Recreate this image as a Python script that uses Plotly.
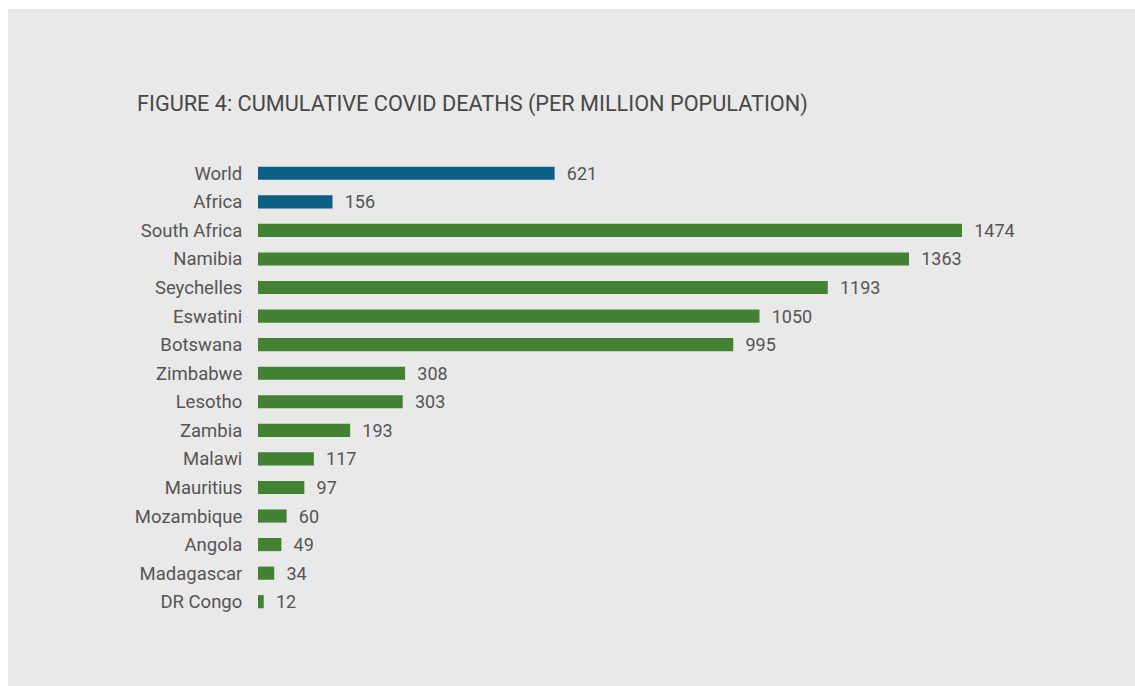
import plotly.graph_objects as go

countries = ["World", "Africa", "South Africa", "Namibia", "Seychelles", "Eswatini",
             "Botswana", "Zimbabwe", "Lesotho", "Zambia", "Malawi", "Mauritius",
             "Mozambique", "Angola", "Madagascar", "DR Congo"]
deaths_per_million = [621, 156, 1474, 1363, 1193, 1050, 995, 308, 303, 193, 117, 97,
                      60, 49, 34, 12]
aggregates = ["World", "Africa"]

BLUE = "#0b5e84"
GREEN = "#428232"
PANEL = "#e9e9e9"
TEXT = "#555555"
FONT = "Roboto"

W, H = 1135, 686
ml, mr, mt, mb = 258, 17, 159, 70
pw, ph = W - ml - mr, H - mt - mb

colors = [BLUE if c in aggregates else GREEN for c in countries]

fig = go.Figure(go.Bar(
    x=deaths_per_million,
    y=countries,
    orientation="h",
    marker=dict(color=colors, line=dict(width=0)),
    width=0.46,
    text=deaths_per_million,
    texttemplate="\u2002%{x}",
    textposition="outside",
    constraintext="none",
    textfont=dict(family=FONT, size=18, color=TEXT),
    cliponaxis=False,
))

# white strip along the top and left edges of the page
shapes = [
    dict(type="rect", xref="paper", yref="paper",
         x0=-ml / pw, x1=(W - ml) / pw, y0=1 + (mt - 9) / ph, y1=1 + mt / ph,
         fillcolor="white", line=dict(width=0), layer="below"),
    dict(type="rect", xref="paper", yref="paper",
         x0=-ml / pw, x1=(8 - ml) / pw, y0=-mb / ph, y1=1 + mt / ph,
         fillcolor="white", line=dict(width=0), layer="below"),
]

fig.update_layout(
    width=W, height=H,
    margin=dict(l=ml, r=mr, t=mt, b=mb),
    paper_bgcolor=PANEL,
    plot_bgcolor=PANEL,
    showlegend=False,
    shapes=shapes,
    title=dict(
        text="FIGURE 4: CUMULATIVE COVID DEATHS (PER MILLION POPULATION)",
        xref="container", yref="container",
        x=137 / W, y=1 - 103 / H, xanchor="left", yanchor="middle",
        font=dict(family=FONT, size=21.7, color="#474747"),
    ),
    xaxis=dict(range=[0, pw / (704 / 1474)], visible=False, fixedrange=True),
    yaxis=dict(
        categoryorder="array", categoryarray=countries, autorange="reversed",
        showgrid=False, zeroline=False, showline=False,
        ticks="outside", ticklen=11, tickcolor="rgba(0,0,0,0)",
        tickfont=dict(family=FONT, size=18.5, color=TEXT),
    ),
)

fig.write_html("out.html")
